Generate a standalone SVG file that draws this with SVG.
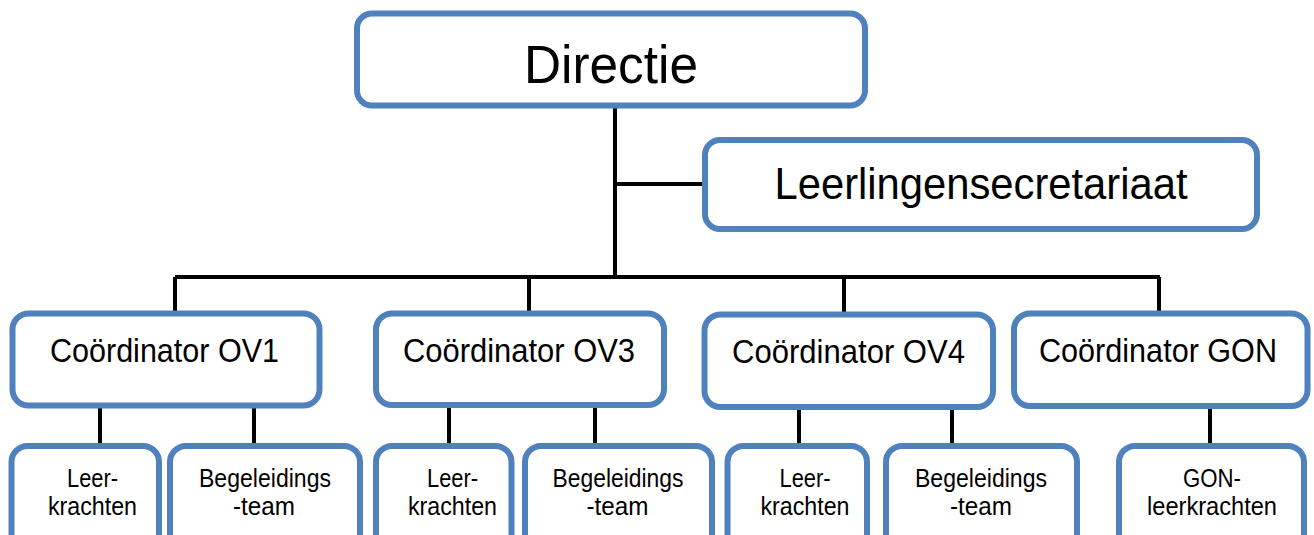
<svg xmlns="http://www.w3.org/2000/svg" width="1314" height="535" viewBox="0 0 1314 535">
<style>
.box{fill:#fff;stroke:#4f81bd;stroke-width:6}
.ln{stroke:#000;stroke-width:4;fill:none}
text{font-family:"Liberation Sans",Arial,sans-serif;fill:#000;text-anchor:middle}
.c{font-size:33px}
.s{font-size:25px}
</style>
<rect width="1314" height="535" fill="#fff"/>
<g id="connectors">
<path class="ln" d="M615 105V277M615 184H705M175 277H1160M175 277V314M529 277V314M844 277V315M1159 277V314"/>
<path class="ln" d="M100 405V446M254 405V446M449 405V446M595 405V446M799 407V446M952 407V446M1210 406V446"/>
</g>
<g id="directie"><rect class="box" x="357" y="13.5" width="508" height="92" rx="15"/><text x="611" y="83" font-size="53" textLength="174" lengthAdjust="spacingAndGlyphs">Directie</text></g>
<g id="secretariaat"><rect class="box" x="705" y="140" width="552" height="89" rx="15"/><text x="981" y="199" font-size="45" textLength="413" lengthAdjust="spacingAndGlyphs">Leerlingensecretariaat</text></g>
<g id="ov1"><rect class="box" x="12.5" y="313.5" width="307" height="92" rx="16"/><text class="c" x="164.5" y="362" textLength="229" lengthAdjust="spacingAndGlyphs">Coördinator OV1</text></g>
<g id="ov3"><rect class="box" x="376" y="313.5" width="288" height="91.5" rx="16"/><text class="c" x="519" y="362" textLength="232" lengthAdjust="spacingAndGlyphs">Coördinator OV3</text></g>
<g id="ov4"><rect class="box" x="704.5" y="314.5" width="288.5" height="92.5" rx="16"/><text class="c" x="848.5" y="363" textLength="233" lengthAdjust="spacingAndGlyphs">Coördinator OV4</text></g>
<g id="gon"><rect class="box" x="1014" y="313.5" width="293.5" height="92.5" rx="16"/><text class="c" x="1158" y="362" textLength="238" lengthAdjust="spacingAndGlyphs">Coördinator GON</text></g>
<g id="leer1"><rect class="box" x="11.5" y="446" width="147.5" height="120" rx="16"/><text class="s" x="92.5" y="487" textLength="51" lengthAdjust="spacingAndGlyphs">Leer-</text><text class="s" x="92.5" y="515" textLength="89" lengthAdjust="spacingAndGlyphs">krachten</text></g>
<g id="beg1"><rect class="box" x="170" y="446" width="190" height="120" rx="16"/><text class="s" x="265" y="487" textLength="132" lengthAdjust="spacingAndGlyphs">Begeleidings</text><text class="s" x="264" y="515" textLength="62" lengthAdjust="spacingAndGlyphs">-team</text></g>
<g id="leer3"><rect class="box" x="376" y="446" width="135.5" height="120" rx="16"/><text class="s" x="452.5" y="487" textLength="51" lengthAdjust="spacingAndGlyphs">Leer-</text><text class="s" x="452.5" y="515" textLength="89" lengthAdjust="spacingAndGlyphs">krachten</text></g>
<g id="beg3"><rect class="box" x="525" y="446" width="187" height="120" rx="16"/><text class="s" x="618" y="487" textLength="131" lengthAdjust="spacingAndGlyphs">Begeleidings</text><text class="s" x="617.5" y="515" textLength="62" lengthAdjust="spacingAndGlyphs">-team</text></g>
<g id="leer4"><rect class="box" x="727.5" y="446" width="139.5" height="120" rx="16"/><text class="s" x="805" y="487" textLength="51" lengthAdjust="spacingAndGlyphs">Leer-</text><text class="s" x="805" y="515" textLength="89" lengthAdjust="spacingAndGlyphs">krachten</text></g>
<g id="beg4"><rect class="box" x="886" y="446" width="191" height="120" rx="16"/><text class="s" x="981" y="487" textLength="132" lengthAdjust="spacingAndGlyphs">Begeleidings</text><text class="s" x="981" y="515" textLength="62" lengthAdjust="spacingAndGlyphs">-team</text></g>
<g id="gonleer"><rect class="box" x="1119" y="446" width="185" height="120" rx="16"/><text class="s" x="1212" y="487" textLength="58" lengthAdjust="spacingAndGlyphs">GON-</text><text class="s" x="1212" y="515" textLength="130" lengthAdjust="spacingAndGlyphs">leerkrachten</text></g>
</svg>
